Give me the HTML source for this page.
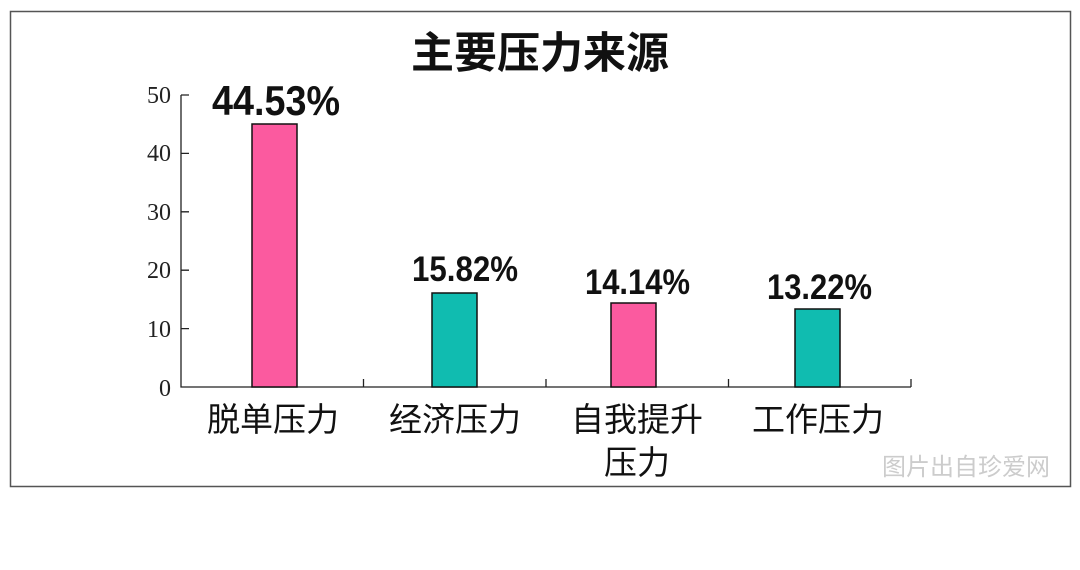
<!DOCTYPE html>
<html><head><meta charset="utf-8"><style>
body{margin:0;width:1080px;height:565px;background:#fff;overflow:hidden}
.s{font-family:"Liberation Sans","Noto Sans CJK SC",sans-serif}
.t{font-family:"Liberation Serif",serif}
</style></head><body>
<svg width="1080" height="565" xmlns="http://www.w3.org/2000/svg">
<rect x="10.5" y="11.5" width="1060" height="475" fill="#fff" stroke="#555" stroke-width="1.5"/>
<text class="s" x="540" y="68" text-anchor="middle" font-size="43" font-weight="bold" fill="#111">主要压力来源</text>
<g stroke="#222" stroke-width="1.3" fill="none">
<path d="M181 95V387H911"/>
<path d="M181 95h8M181 153.4h8M181 211.8h8M181 270.2h8M181 328.6h8"/>
<path d="M363.5 387v-8M546 387v-8M728.5 387v-8M911 387v-8"/>
</g>
<g font-size="24" fill="#222" text-anchor="end">
<text class="t" x="171" y="103">50</text><text class="t" x="171" y="161">40</text><text class="t" x="171" y="220">30</text><text class="t" x="171" y="278">20</text><text class="t" x="171" y="337">10</text><text class="t" x="171" y="396">0</text>
</g>
<g stroke="#111" stroke-width="1.5">
<rect x="252" y="124" width="45" height="263" fill="#fb5a9f"/>
<rect x="432" y="293" width="45" height="94" fill="#10bcb0"/>
<rect x="611" y="303" width="45" height="84" fill="#fb5a9f"/>
<rect x="795" y="309" width="45" height="78" fill="#10bcb0"/>
</g>
<g font-weight="bold" fill="#111">
<text class="s" x="212" y="115" font-size="42" textLength="128" lengthAdjust="spacingAndGlyphs">44.53%</text>
<text class="s" x="412" y="281" font-size="35" textLength="106" lengthAdjust="spacingAndGlyphs">15.82%</text>
<text class="s" x="585" y="294" font-size="35" textLength="105" lengthAdjust="spacingAndGlyphs">14.14%</text>
<text class="s" x="767" y="299" font-size="35" textLength="105" lengthAdjust="spacingAndGlyphs">13.22%</text>
</g>
<g font-size="33" fill="#111" text-anchor="middle">
<text class="s" x="273" y="431">脱单压力</text>
<text class="s" x="455" y="431">经济压力</text>
<text class="s" x="637" y="431">自我提升</text>
<text class="s" x="637" y="474">压力</text>
<text class="s" x="818" y="431">工作压力</text>
</g>
<text class="s" x="966" y="475" font-size="24" fill="#ccc" text-anchor="middle">图片出自珍爱网</text>
</svg>
</body></html>
